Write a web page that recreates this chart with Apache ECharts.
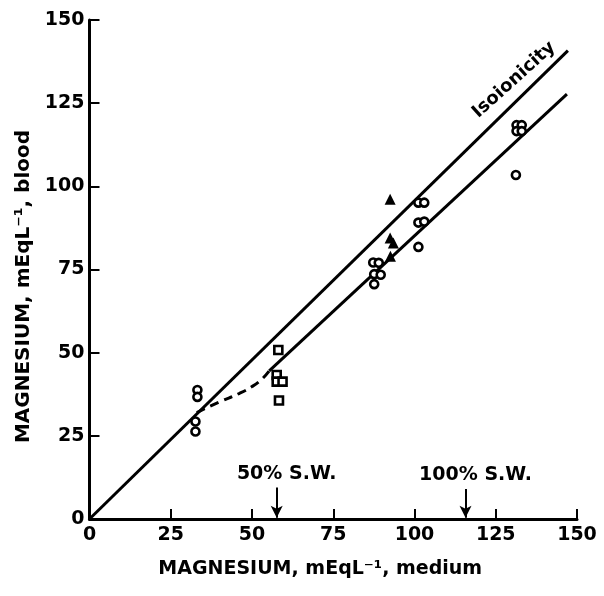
<!DOCTYPE html>
<html><head><meta charset="utf-8">
<script src="https://cdn.jsdelivr.net/npm/echarts@6/dist/echarts.min.js"></script>
<style>html,body{margin:0;padding:0;background:#fff}#c{width:604px;height:596px}</style>
</head><body><div id="c"></div>
<script>
// ---- data ----
const circles = [[33.2,38.8],[33.2,36.7],[32.6,29.3],[32.6,26.3],
  [87.3,77.1],[89.0,77.0],[87.6,73.6],[89.6,73.4],[87.6,70.6],
  [101.2,81.8],[101.2,95.1],[103.0,95.1],[101.2,89.1],[103.0,89.4],
  [131.4,118.4],[133.0,118.4],[131.4,116.6],[133.0,116.6],[131.2,103.4]];
const squares = [[58.1,50.8],[57.6,43.3],[57.6,41.3],[59.4,41.3],[58.3,35.6]];
const triangles = [[92.5,96.1],[92.5,84.5],[93.5,83.0],[92.6,79.0]];
const isoLine = [[0,0],[147.2,140.8]];
const fitLine = [[55.3,44.5],[146.9,127.7]];
const dashedCurve = [[33,32],[40,35.2],[46,37.7],[50,39.8],[53,42],[55.3,44.5]];
const swNames = ['50% S.W.','100% S.W.'];
const swX = [57.6,115.7];
const swTop = [9.5,9.0];
const isoLabel = ['Isoionicity'];
const isoLabelAt = [130.6,132.0];
const xName = 'MAGNESIUM, mEqL\u207B\u00B9, medium';
const yName = 'MAGNESIUM, mEqL\u207B\u00B9, blood';

const FONT = 'DejaVu Sans';
const axisCommon = {
  type:'value', min:0, max:150, interval:25,
  splitLine:{show:false},
  axisLine:{show:true, lineStyle:{color:'#000', width:3}},
  axisTick:{show:true, inside:true, length:10, lineStyle:{color:'#000', width:2}},
  axisLabel:{color:'#000', fontFamily:FONT, fontWeight:'bold', fontSize:19},
  nameLocation:'middle'
};
const chart = echarts.init(document.getElementById('c'), null, {renderer:'canvas'});
chart.setOption({
  animation:false,
  backgroundColor:'#fff',
  grid:{left:89.5, right:27, top:20, bottom:77},
  xAxis:Object.assign({}, axisCommon, {name:xName, nameGap:41,
    nameTextStyle:{color:'#000', fontFamily:FONT, fontWeight:'bold', fontSize:19, padding:[0,26,0,0]},
    axisLabel:Object.assign({}, axisCommon.axisLabel, {margin:7})}),
  yAxis:Object.assign({}, axisCommon, {name:yName, nameGap:47,
    nameTextStyle:{color:'#000', fontFamily:FONT, fontWeight:'bold', fontSize:20, padding:[0,34,0,0]},
    axisLabel:Object.assign({}, axisCommon.axisLabel, {margin:5})}),
  series:[
    {type:'line', data:isoLine, symbol:'none', lineStyle:{color:'#000', width:3}, z:2},
    {type:'line', data:fitLine, symbol:'none', lineStyle:{color:'#000', width:3}, z:2},
    {type:'line', data:dashedCurve, smooth:true, symbol:'none', lineStyle:{color:'#000', width:3, type:[9,6]}, z:2},
    {type:'scatter', data:circles, symbol:'circle', symbolSize:8,
      itemStyle:{color:'#fff', borderColor:'#000', borderWidth:2.6, opacity:1}, z:3},
    {type:'scatter', data:squares, symbol:'rect', symbolSize:8,
      itemStyle:{color:'#fff', borderColor:'#000', borderWidth:2.6, opacity:1}, z:3},
    {type:'scatter', data:triangles, symbol:'triangle', symbolSize:11,
      itemStyle:{color:'#000', opacity:1}, z:3},
    {type:'scatter', symbolSize:0, silent:true, itemStyle:{opacity:1},
      data:swX.map((x,i)=>({value:[x, swTop[i]], name:swNames[i]})),
      label:{show:true, position:'top', formatter:'{b}', distance:4, offset:[10,0],
        color:'#000', fontFamily:FONT, fontWeight:'bold', fontSize:19},
      markLine:{silent:true, symbol:['none','arrow'], symbolSize:[9,12],
        lineStyle:{color:'#000', width:2, type:'solid', opacity:1}, label:{show:false},
        data:swX.map((x,i)=>[{coord:[x, swTop[i]]},{coord:[x, 0.4]}])}},
    {type:'scatter', symbolSize:0, silent:true, itemStyle:{opacity:1},
      data:[{value:isoLabelAt, name:isoLabel[0]}],
      label:{show:true, position:'inside', formatter:'{b}', rotate:42,
        color:'#000', fontFamily:FONT, fontWeight:'bold', fontSize:18}}
  ]
});
</script></body></html>
